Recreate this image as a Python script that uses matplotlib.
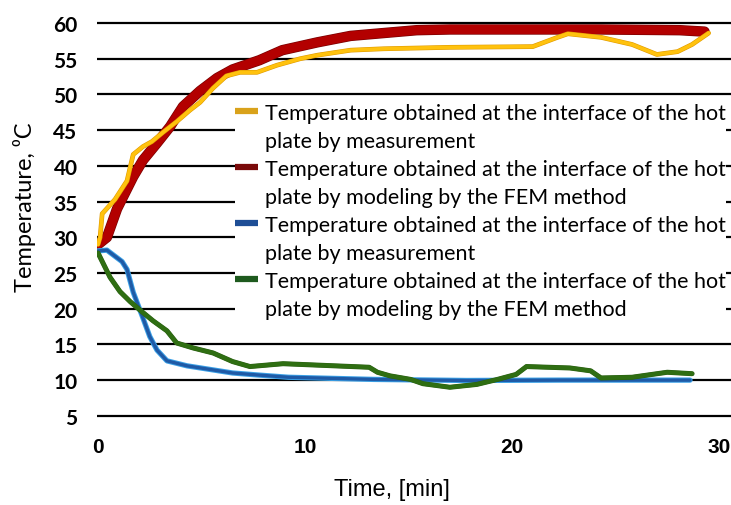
import matplotlib
matplotlib.use("Agg")
import matplotlib.pyplot as plt
import matplotlib.patheffects as pe
from matplotlib.lines import Line2D

# ---- data ----
meas_hot_t = [0, 0.1, 0.2, 0.82, 1.4, 1.7, 2.17, 2.6, 3.14, 3.8, 4.44, 4.93, 5.56, 6.2, 6.86,
              7.68, 8.65, 9.76, 10.6, 12.2, 13.8, 17.0, 21.0, 22.2, 22.7, 24.3, 25.8, 27.0,
              28.0, 28.7, 29.5]
meas_hot_T = [29.0, 30.0, 33.3, 35.3, 37.9, 41.6, 42.7, 43.4, 44.7, 46.2, 47.8, 48.9, 50.9, 52.6,
              53.1, 53.1, 54.1, 55.0, 55.5, 56.2, 56.4, 56.6, 56.7, 58.0, 58.5, 58.0, 57.0, 55.6,
              56.0, 57.0, 58.6]

fem_hot_t = [0, 0.43, 0.92, 1.7, 2.17, 2.85, 3.48, 4.1, 4.93, 5.75, 6.5, 7.8, 8.9, 10.6, 12.2,
             13.8, 15.4, 17.0, 19.4, 24.3, 28.1, 29.3]
fem_hot_T = [29.0, 30.0, 34.0, 38.5, 40.8, 43.2, 45.5, 48.3, 50.5, 52.3, 53.5, 54.8, 56.2, 57.3,
             58.2, 58.6, 59.0, 59.1, 59.1, 59.1, 59.0, 58.8]

meas_cold_t = [0, 0.43, 1.16, 1.4, 1.7, 2.13, 2.5, 2.85, 3.33, 4.3, 5.4, 6.5, 7.8, 9.2, 13.3,
               17.8, 22.3, 28.6]
meas_cold_T = [28.1, 28.2, 26.6, 25.5, 22.3, 19.0, 16.1, 14.2, 12.7, 12.0, 11.5, 11.0, 10.7,
               10.4, 10.1, 9.95, 10.0, 10.0]

fem_cold_t = [0, 0.58, 1.06, 1.55, 2.03, 2.66, 3.33, 3.8, 4.6, 5.56, 6.5, 7.34, 8.94, 13.1,
              13.5, 14.1, 15.1, 15.7, 17.0, 18.3, 19.3, 20.2, 20.7, 22.8, 23.8, 24.3, 25.8,
              27.5, 28.7]
fem_cold_T = [27.8, 24.4, 22.4, 21.0, 19.8, 18.3, 16.9, 15.2, 14.5, 13.8, 12.6, 11.9, 12.3, 11.8,
              11.1, 10.6, 10.1, 9.5, 9.0, 9.4, 10.1, 10.8, 11.9, 11.7, 11.3, 10.3, 10.4, 11.1,
              10.9]

legend_line1 = "Temperature obtained at the interface of the hot"
legend_line2 = ["plate by measurement", "plate by modeling by the FEM method",
                "plate by measurement", "plate by modeling by the FEM method"]
x_ticks = [0, 10, 20, 30]
y_ticks = [5, 10, 15, 20, 25, 30, 35, 40, 45, 50, 55, 60]

# ---- figure ----
fig = plt.figure(figsize=(7.31, 5.06), dpi=100)
ax = fig.add_axes([97 / 731, 0.172, 634 / 731, 0.7847])
ax.set_xlim(-0.05, 30.58)
ax.set_ylim(4.7, 60.3)

for s in ax.spines.values():
    s.set_visible(False)
ax.set_yticks(y_ticks)
ax.set_xticks(x_ticks)
ax.grid(axis="y", color="black", linewidth=1.6, zorder=0)
ax.set_axisbelow(True)
ax.tick_params(axis="both", length=0)
ax.tick_params(axis="y", pad=14)
ax.tick_params(axis="x", pad=14)
for lab in ax.get_yticklabels():
    lab.set_family(["Lato", "DejaVu Sans"])
    lab.set_fontweight("bold")
    lab.set_fontsize(15)
for lab in ax.get_xticklabels():
    lab.set_family(["Liberation Sans Narrow", "Liberation Sans", "DejaVu Sans"])
    lab.set_fontweight("bold")
    lab.set_fontsize(15)

# lines
ax.plot(fem_hot_t, fem_hot_T, color="#B30000", lw=6.5, solid_capstyle="round",
        path_effects=[pe.Stroke(linewidth=7.5, foreground="#7A0000"), pe.Normal()], zorder=3)
ax.plot(meas_hot_t, meas_hot_T, color="#FFC20E", lw=2.6, solid_capstyle="round",
        path_effects=[pe.Stroke(linewidth=3.4, foreground="#E09A00"), pe.Normal()], zorder=4)
ax.plot(meas_cold_t, meas_cold_T, color="#1F5AA6", lw=2.4, solid_capstyle="round",
        path_effects=[pe.Stroke(linewidth=3.8, foreground="#3AA0E6"), pe.Normal()], zorder=3)
ax.plot(fem_cold_t, fem_cold_T, color="#2F6E12", lw=3.0, solid_capstyle="round",
        path_effects=[pe.Stroke(linewidth=3.6, foreground="#2A5E14"), pe.Normal()], zorder=4)

# legend (each entry split into two rows; handle on first row)
handle_cols = ["#D9A21B", "#7A0A0A", "#1E4E96", "#1E5A1E"]
handles, labels = [], []
for c, l2 in zip(handle_cols, legend_line2):
    handles.append(Line2D([], [], color=c, lw=4.5, solid_capstyle="butt"))
    labels.append(legend_line1)
    handles.append(Line2D([], [], color="none", lw=0))
    labels.append(l2)
leg = ax.legend(handles, labels, loc="upper left",
                bbox_to_anchor=(235 / 731, 1 - 104 / 506), bbox_transform=fig.transFigure,
                frameon=True, facecolor="white", edgecolor="none", framealpha=1,
                borderpad=0.0, borderaxespad=0, handlelength=1.08, handletextpad=0.33,
                labelspacing=0.37, prop={"family": ["Lato", "DejaVu Sans"], "size": 15.5})
leg.get_frame().set_linewidth(0)

fig.text(392 / 731, 1 - 490 / 506, "Time, [min]",
         family=["Liberation Sans Narrow", "Liberation Sans", "DejaVu Sans"],
         fontsize=17, ha="center", va="center")
fig.text(25 / 731, 1 - 207 / 506, "Temperature, \u2070C", family=["Lato", "DejaVu Sans"],
         fontsize=17, rotation=90, ha="center", va="center")

fig.savefig("out.png", dpi=100)
